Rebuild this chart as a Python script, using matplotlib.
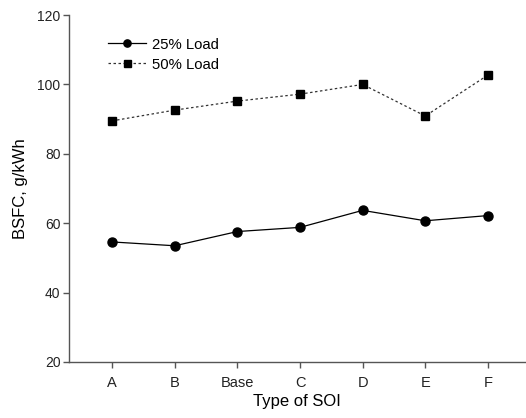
import matplotlib
matplotlib.use('Agg')
import matplotlib.pyplot as plt

plt.rcParams['font.family'] = ['Liberation Sans', 'DejaVu Sans']

# data
soi_types = ['A', 'B', 'Base', 'C', 'D', 'E', 'F']
load_25 = [54.6, 53.5, 57.6, 58.8, 63.7, 60.7, 62.2]
load_50 = [89.5, 92.6, 95.2, 97.2, 100.0, 90.9, 102.7]

x = list(range(1, len(soi_types) + 1))

fig = plt.figure(figsize=(5.26, 4.18), dpi=100, facecolor='white')
ax = fig.add_axes([0.131, 0.134, 0.868, 0.830])

ax.plot(x, load_25, color='black', lw=0.9, marker='o', markersize=6.5,
        label='25% Load')
ax.plot(x, load_50, color='#333333', lw=0.9, ls=(0, (2, 2)), marker='s',
        markersize=6.3, markerfacecolor='black', markeredgecolor='black',
        label='50% Load')

ax.set_xlim(0.31, 7.6)
ax.set_ylim(20, 120)
ax.set_yticks([20, 40, 60, 80, 100, 120])
ax.set_xticks(x)
ax.set_xticklabels(soi_types)

for side in ['top', 'right']:
    ax.spines[side].set_visible(False)
for side in ['left', 'bottom']:
    ax.spines[side].set_color('#555555')
    ax.spines[side].set_linewidth(1.0)
ax.tick_params(direction='out', length=4, width=1.0, color='#555555',
               labelcolor='#222222', pad=2)
ax.tick_params(axis='y', labelsize=10)
ax.tick_params(axis='x', labelsize=10.5, pad=6)

ax.set_xlabel('Type of SOI', fontsize=12, labelpad=3)
ax.set_ylabel('BSFC, g/kWh', fontsize=12, labelpad=7)

ax.legend(loc='upper left', bbox_to_anchor=(0.085, 0.935), frameon=False,
          fontsize=10.7, handlelength=2.6, handletextpad=0.35,
          labelspacing=0.4, markerscale=0.8, borderpad=0, borderaxespad=0)

plt.savefig('out.png', dpi=100, facecolor='white')
plt.close()
